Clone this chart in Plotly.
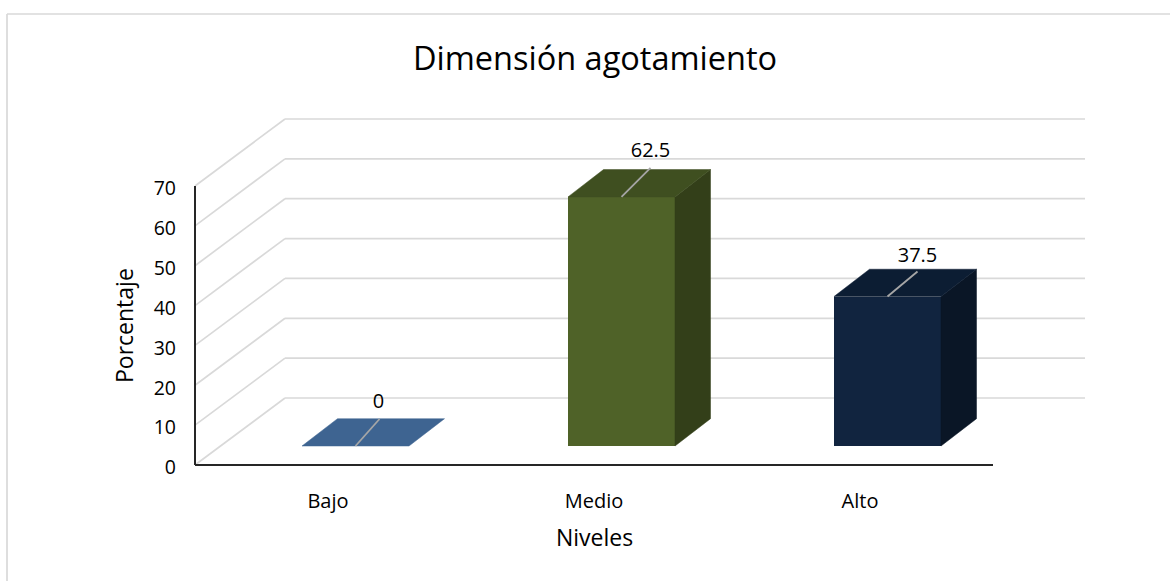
import plotly.graph_objects as go

# ---- data ----
categories = ["Bajo", "Medio", "Alto"]
values = [0, 62.5, 37.5]
value_labels = ["0", "62.5", "37.5"]
y_ticks = [0, 10, 20, 30, 40, 50, 60, 70]
front_colors = ["#3E6491", "#4F6228", "#11243F"]
top_colors = ["#3E6491", "#3F4F20", "#0C1D33"]
side_colors = ["#3E6491", "#333F19", "#0A1626"]

FONT = "Open Sans"

# ---- geometry (pixels of the pseudo 3-D view) ----
W, H = 1170, 581
X0, Y0 = 195, 465                         # pixel of the front-plane origin
PL, PR, PT, PB = 185, 1090, 110, 475      # plot rectangle
SLOT_PX = 266.0                           # width of one category
UNIT_PX = 3.986                           # pixels per percent
WALL_DX, WALL_DY = 90, 67                 # front plane -> back wall
WALL_EXTRA = 2                            # back wall is slightly wider
BAR_OFF_X, BAR_OFF_Y = 27.5, 19           # front plane -> bar front face
BAR_W, BAR_DX, BAR_DY = 107, 35.5, 27.3   # bar size
LEAD_DX = [24, 29, 30]                    # leader line run
LEAD_DY = [27, 29, 25]                    # leader line rise
LABEL_DX = [23, 29, 30]                   # label centre from front-top centre
LABEL_DY = [43, 45, 40]
TICK_SHIFT_PX = 2.5                       # y tick labels sit below their level


def px(p):
    return p / SLOT_PX


def py(p):
    return p / UNIT_PX


fig = go.Figure()

# front faces
centers = [i + 0.5 + px(BAR_OFF_X) for i in range(len(categories))]
fig.add_trace(go.Bar(
    x=centers, y=values, base=py(BAR_OFF_Y), width=px(BAR_W),
    marker=dict(color=front_colors, line=dict(width=0)),
    showlegend=False, hoverinfo="skip",
))

# top and side faces, leader lines, labels
for i, v in enumerate(values):
    c, b = centers[i], py(BAR_OFF_Y)
    l, r = c - px(BAR_W) / 2, c + px(BAR_W) / 2
    t = b + v
    dx, dy = px(BAR_DX), py(BAR_DY)
    if v > 0:
        fig.add_trace(go.Scatter(
            x=[r, r + dx, r + dx, r, r], y=[b, b + dy, t + dy, t, b],
            mode="lines", fill="toself", fillcolor=side_colors[i],
            line=dict(width=0.5, color=side_colors[i]),
            showlegend=False, hoverinfo="skip"))
    fig.add_trace(go.Scatter(
        x=[l, l + dx, r + dx, r, l], y=[t, t + dy, t + dy, t, t],
        mode="lines", fill="toself", fillcolor=top_colors[i],
        line=dict(width=0.5, color=top_colors[i]),
        showlegend=False, hoverinfo="skip"))
    fig.add_trace(go.Scatter(
        x=[c, c + px(LEAD_DX[i])], y=[t, t + py(LEAD_DY[i])],
        mode="lines", line=dict(width=1.8, color="#A6A6A6"),
        showlegend=False, hoverinfo="skip"))
    fig.add_trace(go.Scatter(
        x=[c + px(LABEL_DX[i])], y=[t + py(LABEL_DY[i])],
        mode="text", text=[value_labels[i]], textposition="middle center",
        textfont=dict(family=FONT, size=20, color="#000000"),
        showlegend=False, hoverinfo="skip"))

# walls
wx, wy = px(WALL_DX), py(WALL_DY)
x_end = len(categories)
GRID = dict(color="#D9D9D9", width=1.7)
AXIS = dict(color="#262626", width=2)
shapes = []
for tv in y_ticks:
    shapes.append(dict(type="line", xref="x", yref="y", layer="below",
                       x0=0, y0=tv, x1=wx, y1=tv + wy, line=GRID))
    shapes.append(dict(type="line", xref="x", yref="y", layer="below",
                       x0=wx, y0=tv + wy, x1=x_end + wx + px(WALL_EXTRA), y1=tv + wy, line=GRID))
# axes
shapes.append(dict(type="line", xref="x", yref="y", layer="above",
                   x0=0, y0=0, x1=0, y1=y_ticks[-1], line=AXIS))
shapes.append(dict(type="line", xref="x", yref="y", layer="above",
                   x0=0, y0=0, x1=x_end, y1=0, line=AXIS))


def fx(p):
    return (p - PL) / (PR - PL)


def fy(p):
    return (PB - p) / (PB - PT)


# chart border: only the top and left edges are inside the picture
BORDER = dict(color="#D9D9D9", width=1.7)
shapes.append(dict(type="line", xref="paper", yref="paper", layer="below",
                   x0=fx(7), x1=fx(W), y0=fy(14), y1=fy(14), line=BORDER))
shapes.append(dict(type="line", xref="paper", yref="paper", layer="below",
                   x0=fx(7), x1=fx(7), y0=fy(14), y1=fy(H), line=BORDER))


def note(text, x, y, size, angle=0):
    return dict(text=text, xref="paper", yref="paper", x=fx(x), y=fy(y),
                xanchor="center", yanchor="middle", showarrow=False,
                textangle=angle, font=dict(family=FONT, size=size, color="#000000"))


fig.update_layout(
    width=W, height=H, autosize=False,
    margin=dict(l=PL, r=W - PR, t=PT, b=H - PB, pad=0),
    paper_bgcolor="#FFFFFF", plot_bgcolor="rgba(0,0,0,0)",
    showlegend=False, shapes=shapes, bargap=0,
    font=dict(family=FONT, color="#000000"),
    title=dict(text="Dimensión agotamiento", x=595 / W, xanchor="center",
               y=1 - 59 / H, yanchor="middle",
               font=dict(family=FONT, size=32.5, color="#000000")),
    annotations=[note("Porcentaje", 124, 326, 23, -90), note("Niveles", 594, 537, 23)],
    xaxis=dict(range=[px(PL - X0), px(PR - X0)], tickmode="array",
               tickvals=[i + 0.5 for i in range(len(categories))], ticktext=categories,
               showgrid=False, zeroline=False, showline=False, ticks="",
               ticklabelstandoff=12, tickfont=dict(family=FONT, size=20)),
    yaxis=dict(range=[py(Y0 - PB), py(Y0 - PT)], tickmode="array",
               tickvals=[t - py(TICK_SHIFT_PX) for t in y_ticks],
               ticktext=[str(t) for t in y_ticks],
               showgrid=False, zeroline=False, showline=False,
               ticks="", ticklabelstandoff=8, tickfont=dict(family=FONT, size=19.5)),
)

fig.write_html("out.html", config=dict(displayModeBar=False),
               post_script="document.body.style.margin='0';window.dispatchEvent(new Event('resize'));")
